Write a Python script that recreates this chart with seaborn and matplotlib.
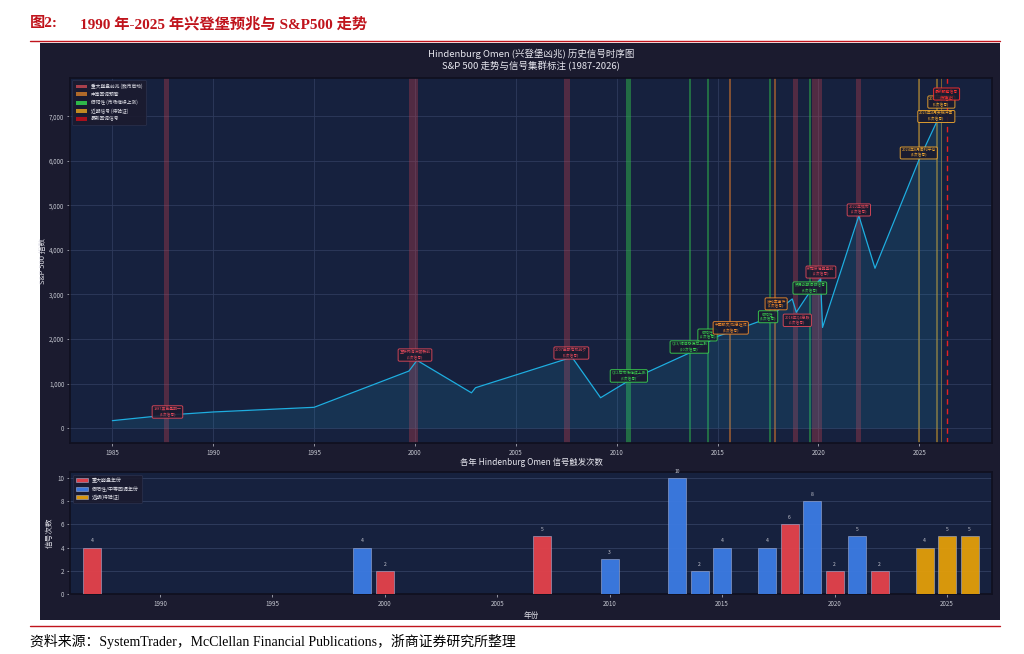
import numpy as np
import pandas as pd
import seaborn as sns
import matplotlib.pyplot as plt
from matplotlib.patches import Patch, Rectangle
from matplotlib.lines import Line2D
from matplotlib.ticker import FuncFormatter

# --- S&P 500 path (year, index level) ---
spx_year = [1985.0, 1987.7, 1990.0, 1995.0, 1999.7, 2000.1, 2002.8, 2003.0,
            2007.5, 2007.8, 2009.2, 2010.6, 2013.6, 2015.0, 2017.5, 2018.7,
            2018.9, 2019.5, 2020.1, 2020.2, 2022.0, 2022.8, 2025.0, 2025.85, 2026.1]
spx_value = [165, 290, 360, 465, 1280, 1520, 790, 905,
             1550, 1580, 680, 1065, 1685, 2060, 2465, 2900,
             2600, 3010, 3350, 2260, 4770, 3590, 6045, 6870, 6950]

# --- signal clusters (centre year, span in years, kind) ---
band_year = [1987.68, 1999.94, 2007.55, 2010.59, 2013.62, 2014.53, 2015.62, 2017.60,
             2017.86, 2018.85, 2019.58, 2019.91, 2021.98, 2024.97, 2025.86, 2026.10]
band_span = [0.25, 0.45, 0.28, 0.23, 0.10, 0.10, 0.10, 0.10,
             0.10, 0.27, 0.10, 0.50, 0.25, 0.10, 0.08, 0.08]
band_kind = ["crash", "crash", "crash", "false", "false", "false", "moderate", "false",
             "moderate", "crash", "false", "crash", "crash", "recent", "recent", "recent"]
latest_year = 2026.35

# --- cluster annotations ---
note_year = [1987.73, 2000.0, 2007.75, 2010.6, 2013.6, 2014.5, 2015.65, 2017.5,
             2017.9, 2018.95, 2019.57, 2020.12, 2022.0, 2024.97, 2025.84, 2026.09, 2026.35]
note_value = [360, 1640, 1685, 1170, 1820, 2090, 2250, 2500,
              2790, 2420, 3145, 3505, 4900, 6180, 7000, 7325, 7505]
note_line1 = ["1987黑色星期一", "互联网泡沫破裂前", "2007金融危机前夕", "QE2后市场继续上涨",
              "QE3/缩减恐慌后上涨", "假阳性", "中国股灾/加息担忧", "假阳性",
              "波动率事件", "2018年Q4急跌", "贸易战期间假信号", "新冠疫情崩盘前",
              "2022年熊市", "2024年8月套利平仓", "2025年4月关税冲击", "2025年末信号",
              "最新预警信号"]
note_line2 = ["(4次信号)", "(6次信号)", "(5次信号)", "(3次信号)",
              "(10次信号)", "(2次信号)", "(4次信号)", "(4次信号)",
              "(1次信号)", "(6次信号)", "(8次信号)", "(2次信号)",
              "(2次信号)", "(4次信号)", "(5次信号)", "(5次信号)",
              "(待验证)"]
note_kind = ["crash", "crash", "crash", "false", "false", "false", "moderate", "false",
             "moderate", "crash", "false", "crash", "crash", "recent", "recent", "recent",
             "latest"]

# --- yearly signal counts ---
bar_year = [1987, 1999, 2000, 2007, 2010, 2013, 2014, 2015, 2017,
            2018, 2019, 2020, 2021, 2022, 2024, 2025, 2026]
bar_count = [4, 4, 2, 5, 3, 10, 2, 4, 4, 6, 8, 2, 5, 2, 4, 5, 5]
bar_kind = ["重大崩盘年份", "假阳性/中等回调年份", "重大崩盘年份", "重大崩盘年份",
            "假阳性/中等回调年份", "假阳性/中等回调年份", "假阳性/中等回调年份",
            "假阳性/中等回调年份", "假阳性/中等回调年份", "重大崩盘年份",
            "假阳性/中等回调年份", "重大崩盘年份", "假阳性/中等回调年份", "重大崩盘年份",
            "近期(待验证)", "近期(待验证)", "近期(待验证)"]

band_color = {"crash": "#c0404e", "false": "#2fb84a", "moderate": "#d9772a",
              "recent": "#c8962a", "latest": "#e82020"}
band_alpha = {"crash": 0.35, "false": 0.5, "moderate": 0.55, "recent": 0.55}
note_color = {"crash": "#e0485a", "false": "#3ad04e", "moderate": "#f08a2a",
              "recent": "#f0a830", "latest": "#ff3030"}
bar_palette = {"重大崩盘年份": "#e5424b", "假阳性/中等回调年份": "#3c7be3",
               "近期(待验证)": "#e39e0a"}

sns.set_theme(style="dark")
plt.rcParams['font.family'] = ['Noto Sans CJK SC', 'DejaVu Sans']
plt.rcParams['axes.unicode_minus'] = False

W, H = 1024, 654
fig = plt.figure(figsize=(W / 100, H / 100), dpi=100, facecolor="white")

# dark panel of the embedded chart
fig.patches.append(Rectangle((40 / W, 1 - 620 / H), 960 / W, 577 / H,
                             transform=fig.transFigure, fc="#1b1b2f", ec="none", zorder=-10))

# report header / footer
serif = ['Liberation Serif', 'Noto Sans CJK SC']
fig.text(30 / W, 1 - 24 / H, "图2:", color="#c0141c", fontsize=11, family=serif,
         va="center", weight="bold")
fig.text(80 / W, 1 - 24 / H, "1990 年-2025 年兴登堡预兆与 S&P500 走势", color="#c0141c",
         fontsize=11, family=serif, va="center", weight="bold")
fig.add_artist(Line2D([30 / W, 1000 / W], [1 - 41 / H, 1 - 41 / H], color="#c0141c", lw=1))
fig.add_artist(Line2D([30 / W, 1000 / W], [1 - 626 / H, 1 - 626 / H], color="#c0141c", lw=1))
fig.text(30 / W, 1 - 641 / H,
         "资料来源：SystemTrader，McClellan Financial Publications，浙商证券研究所整理",
         color="black", fontsize=10, family=serif, va="center")

tick_c = "#c4c6d0"
grid_c = "#2e3b5c"

# ---------------- top: S&P 500 with signal clusters ----------------
ax1 = fig.add_axes([70 / W, 1 - 443 / H, 922 / W, 365 / H])
ax1.set_facecolor("#16213e")
for c, w, k in zip(band_year, band_span, band_kind):
    ax1.axvspan(c - w / 2, c + w / 2, color=band_color[k], alpha=band_alpha[k], lw=0, zorder=1)
ax1.axvline(latest_year, color=band_color["latest"], lw=1.0, ls=(0, (4, 3)), zorder=2)

sns.lineplot(x=spx_year, y=spx_value, ax=ax1, color="#1eaee0", lw=0.9, zorder=3)
ax1.fill_between(spx_year, spx_value, 0, color="#1eaee0", alpha=0.13, lw=0, zorder=2)

for x, y, t1, t2, k in zip(note_year, note_value, note_line1, note_line2, note_kind):
    ax1.text(x, y, t1 + "\n" + t2, fontsize=2.8, color=note_color[k], ha="center",
             va="center", linespacing=1.3, zorder=5,
             bbox=dict(boxstyle="round,pad=0.35", fc="#1b1b2f", ec=note_color[k],
                       lw=0.7, alpha=0.9))

ax1.set_xlim(1982.9, 2028.6)
ax1.set_ylim(-337, 7865)
ax1.set_xticks(range(1985, 2026, 5))
ax1.set_yticks(range(0, 7001, 1000))
ax1.yaxis.set_major_formatter(FuncFormatter(lambda v, p: f"{v:,.0f}"))
ax1.grid(True, color=grid_c, lw=0.6)
ax1.tick_params(colors=tick_c, labelsize=4.5, length=2, width=0.5, pad=2, bottom=True, left=True)
ax1.set_ylabel("S&P 500 指数", color="#e0e0e8", fontsize=5.5)
ax1.yaxis.set_label_coords(-0.0245, 0.5)
ax1.set_xlabel("")
for s in ax1.spines.values():
    s.set_color("#101020")
ax1.set_title("Hindenburg Omen (兴登堡凶兆) 历史信号时序图\nS&P 500 走势与信号集群标注 (1987-2026)",
              color="#e8e8f0", fontsize=6.8, pad=6, linespacing=1.35)

legend_items = [("crash", "重大崩盘前兆 (熊市启动)"), ("moderate", "中等回调预警"),
                ("false", "假阳性 (市场继续上涨)"), ("recent", "近期信号 (待验证)"),
                ("latest", "最新回调信号")]
legend_fc = {"crash": "#a8404c", "moderate": "#b06a2a", "false": "#2fb84a",
             "recent": "#c08a22", "latest": "#a8101c"}
handles = [Patch(fc=legend_fc[k], ec="none", label=lab) for k, lab in legend_items]
lg = ax1.legend(handles=handles, loc="upper left", fontsize=3.4, frameon=True,
                facecolor="#1b1b2f", edgecolor="#2e3450", labelcolor="#e0e0e8",
                handlelength=2.4, handleheight=0.9, borderpad=0.7, labelspacing=0.6,
                framealpha=0.9)
lg.get_frame().set_linewidth(0.5)

# ---------------- bottom: yearly signal counts ----------------
ax2 = fig.add_axes([70 / W, 1 - 594 / H, 922 / W, 122 / H])
ax2.set_facecolor("#16213e")
df_bar = pd.DataFrame({"year": bar_year, "count": bar_count, "kind": bar_kind})
sns.barplot(data=df_bar, x="year", y="count", hue="kind", native_scale=True, dodge=False,
            hue_order=list(bar_palette), palette=bar_palette, width=0.8, saturation=1,
            ax=ax2, edgecolor="#a8b4d8", linewidth=0.4, alpha=0.95, zorder=3)
for x, c in zip(bar_year, bar_count):
    ax2.text(x, c + 0.35, str(c), ha="center", va="bottom", fontsize=3.6, color=tick_c)

ax2.set_xlim(1986, 2027)
ax2.set_ylim(0, 10.5)
ax2.set_xticks(range(1990, 2026, 5))
ax2.set_yticks(range(0, 11, 2))
ax2.grid(True, axis="y", color=grid_c, lw=0.7, zorder=0)
ax2.grid(False, axis="x")
ax2.tick_params(colors=tick_c, labelsize=4.5, length=2, width=0.5, pad=2, bottom=True, left=True)
ax2.set_xlabel("年份", color="#e0e0e8", fontsize=5.5, labelpad=3)
ax2.set_ylabel("信号次数", color="#e0e0e8", fontsize=5.5, labelpad=3)
for s in ax2.spines.values():
    s.set_color("#101020")
ax2.set_title("各年 Hindenburg Omen 信号触发次数", color="#e8e8f0", fontsize=6, pad=5)
h2, l2 = ax2.get_legend_handles_labels()
lg2 = ax2.legend(h2, l2, loc="upper left", fontsize=3.6, frameon=True, facecolor="#1b1b2f",
                 edgecolor="#2e3450", labelcolor="#e0e0e8", handlelength=2.4,
                 handleheight=0.9, borderpad=0.6, labelspacing=0.6, framealpha=0.9)
lg2.get_frame().set_linewidth(0.5)

fig.savefig("out.png", dpi=100, facecolor="white")
